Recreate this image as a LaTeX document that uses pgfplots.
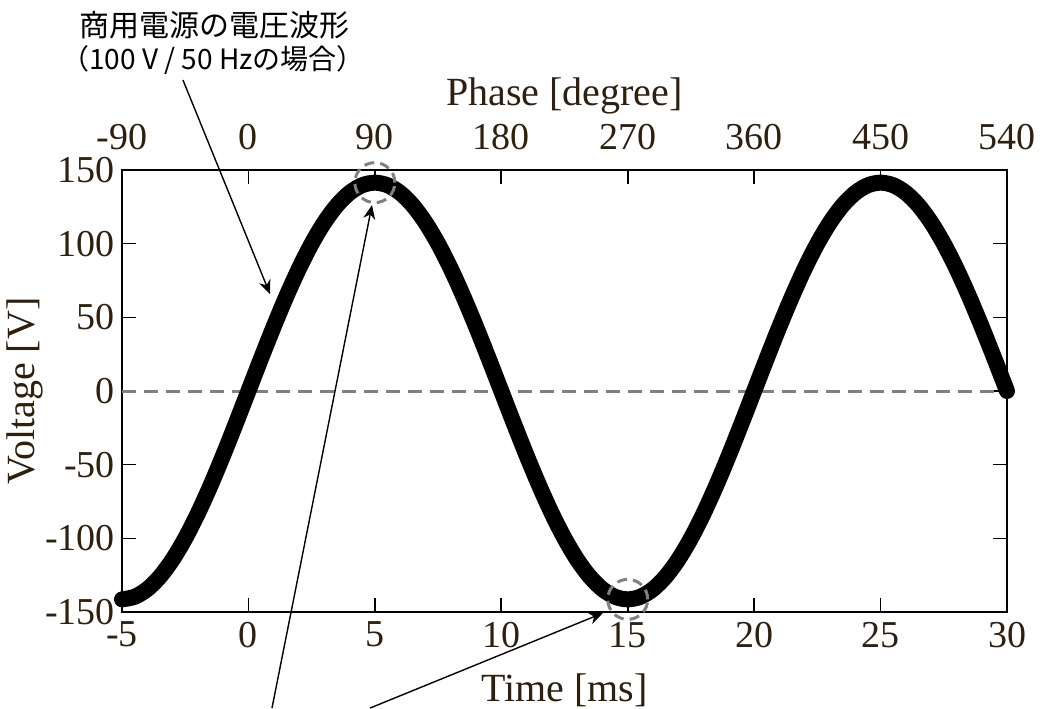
\documentclass[border=0pt]{standalone}
\usepackage{pgfplots}
\pgfplotsset{compat=1.18}
\usepackage{fontspec}
\setmainfont{Liberation Serif}
\newfontfamily\jpfont{Noto Sans CJK JP}
\usetikzlibrary{arrows.meta}
\definecolor{tickbrown}{HTML}{2E2010}
\definecolor{zerogray}{HTML}{808080}

\pgfplotstableread{
t v
-5 -141.42
-4.5 -139.68
-4 -134.50
-3.5 -126.01
-3 -114.41
-2.5 -100.00
-2 -83.13
-1.5 -64.20
-1 -43.70
-0.5 -22.12
0 0
0.5 22.12
1 43.70
1.5 64.20
2 83.13
2.5 100.00
3 114.41
3.5 126.01
4 134.50
4.5 139.68
5 141.42
5.5 139.68
6 134.50
6.5 126.01
7 114.41
7.5 100.00
8 83.13
8.5 64.20
9 43.70
9.5 22.12
10 0
10.5 -22.12
11 -43.70
11.5 -64.20
12 -83.13
12.5 -100.00
13 -114.41
13.5 -126.01
14 -134.50
14.5 -139.68
15 -141.42
15.5 -139.68
16 -134.50
16.5 -126.01
17 -114.41
17.5 -100.00
18 -83.13
18.5 -64.20
19 -43.70
19.5 -22.12
20 0
20.5 22.12
21 43.70
21.5 64.20
22 83.13
22.5 100.00
23 114.41
23.5 126.01
24 134.50
24.5 139.68
25 141.42
25.5 139.68
26 134.50
26.5 126.01
27 114.41
27.5 100.00
28 83.13
28.5 64.20
29 43.70
29.5 22.12
30 0
}\wavedata

\begin{document}
\begin{tikzpicture}
  \useasboundingbox (-61pt,-48pt) rectangle (461.5pt,306pt);
  \clip (-61pt,-48pt) rectangle (461.5pt,306pt);
  \pgfplotsset{
    every axis/.append style={
      scale only axis,
      width=442.5pt, height=221pt,
      at={(0,0)}, anchor=south west,
      tick align=inside,
      major tick length=7pt,
      axis line style={line width=0.8pt},
      every tick/.style={line width=0.8pt, black},
      /pgf/number format/assume math mode=true,
      tick label style={font=\fontsize{19}{21}\selectfont, text=tickbrown},
      label style={font=\fontsize{20}{22}\selectfont, text=tickbrown},
    },
  }
  % top axis: phase
  \begin{axis}[
      xmin=-90, xmax=540,
      ymin=-150, ymax=150,
      axis x line*=top,
      axis y line=none,
      xtick={-90,0,90,180,270,360,450,540},
      xticklabel style={yshift=6.5pt},
      xlabel={Phase [degree]},
      xlabel style={yshift=-2pt},
    ]
  \end{axis}
  % main axis: time
  \begin{axis}[
      xmin=-5, xmax=30,
      ymin=-150, ymax=150,
      xtick={-5,0,5,10,15,20,25,30},
      ytick={-150,-100,-50,0,50,100,150},
      xtick pos=lower,
      ytick pos=both,
      xlabel={Time [ms]},
      ylabel={Voltage [V]},
      xticklabel style={yshift=-1.5pt},
      xlabel style={yshift=-6pt},
      ylabel style={yshift=-6pt},
      clip=false,
    ]
    \addplot[zerogray, line width=1.5pt, dash pattern=on 7pt off 4pt]
      coordinates {(-5,0) (30,0)};
    \addplot[black, line width=8pt, line cap=round, smooth] table[x=t, y=v] {\wavedata};
    \draw[zerogray, line width=1.5pt, dash pattern=on 5pt off 3pt]
      (axis cs:5,141.42) circle[radius=10pt];
    \draw[zerogray, line width=1.5pt, dash pattern=on 5pt off 3pt]
      (axis cs:15,-141.42) circle[radius=10pt];
    \draw[line width=0.7pt, -{Stealth[length=7pt,width=6pt]}]
      (axis cs:-2.59,211.1) -- (axis cs:0.853,65.8);
    \draw[line width=0.7pt, -{Stealth[length=7pt,width=6pt]}]
      (axis cs:0.932,-215.2) -- (axis cs:4.887,126.2);
    \draw[line width=0.7pt, -{Stealth[length=7pt,width=6pt]}]
      (axis cs:4.81,-215.2) -- (axis cs:14.02,-150.7);
    \node[font=\jpfont\fontsize{15}{17}\selectfont, inner sep=0pt]
      at (axis cs:-1.36,248.4) {商用電源の電圧波形};
    \node[font=\jpfont\fontsize{14}{16}\selectfont, inner sep=0pt]
      at (axis cs:-1.40,224.7) {（100 V / 50 Hzの場合）};
  \end{axis}
\end{tikzpicture}
\end{document}
